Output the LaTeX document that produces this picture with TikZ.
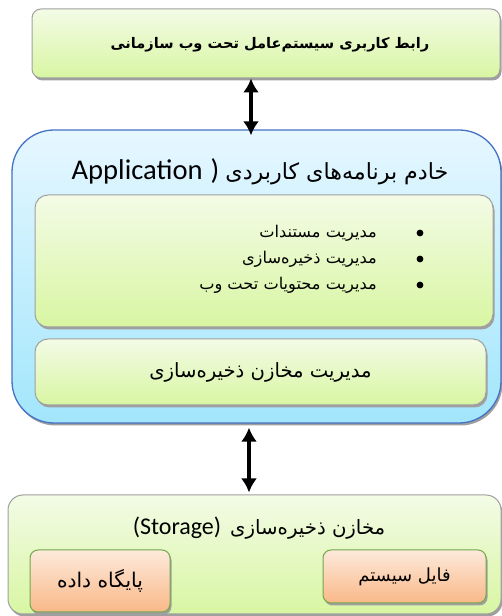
\documentclass[tikz,border=0pt]{standalone}
\usepackage{fontspec}
\setmainfont{Carlito}
\newfontfamily\fa[Script=Arabic]{DejaVu Sans}
\TeXXeTstate=1
\usetikzlibrary{arrows.meta,shadows}
\definecolor{gtop}{HTML}{F3FBE6}
\definecolor{gbot}{HTML}{D8F6A2}
\definecolor{btop}{HTML}{E6F7FF}
\definecolor{bbot}{HTML}{A2E6FC}
\definecolor{bline}{HTML}{4472C4}
\definecolor{otop}{HTML}{FDEADB}
\definecolor{obot}{HTML}{F9B888}
\definecolor{oline}{HTML}{72A84A}
\definecolor{gline}{HTML}{A0A0A0}
\begin{document}
\begin{tikzpicture}[x=1pt,y=1pt,
  shad/.style={drop shadow={shadow xshift=1.5pt,shadow yshift=-2.5pt,fill=gray!75,opacity=1}},
  greenbox/.style={shad,draw=gline,line width=1pt,top color=gtop,bottom color=gbot,inner sep=0pt},
  bluebox/.style={shad,draw=bline,line width=1.3pt,top color=btop,bottom color=bbot,inner sep=0pt},
  orangebox/.style={shad,draw=oline,line width=1pt,top color=otop,bottom color=obot,inner sep=0pt},
  arr/.style={{Latex[length=14pt,width=16pt]}-{Latex[length=14pt,width=16pt]},line width=3.6pt},
  txt/.style={inner sep=0pt,text=black}]
\useasboundingbox (0,0) rectangle (502,616);
% top box
\node[greenbox,rounded corners=9pt,minimum width=468pt,minimum height=69pt] (top) at (266,572.5) {};
\node[txt,font=\fa\bfseries\fontsize{14.6}{16}\selectfont] (toptxt) at (270,571) {\beginR رابط کاربری سیستم‌عامل تحت وب سازمانی\endR};
% application box
\node[bluebox,rounded corners=42pt,minimum width=489pt,minimum height=293pt] (app) at (256.5,339.5) {};
\node[txt,anchor=base,font=\fontsize{28.6}{30}\selectfont] (apptitle) at (260,436) {Application\hspace{8pt})\hspace{6pt}{\fa\fontsize{22.2}{24}\selectfont\beginR خادم برنامه‌های کاربردی\endR}};
\node[greenbox,rounded corners=13pt,minimum width=458pt,minimum height=132pt] (inner1) at (264,355) {};
\foreach \yy/\t [count=\i] in {383/مدیریت مستندات,357/مدیریت ذخیره‌سازی,331/مدیریت محتویات تحت وب}{
  \fill (420,\yy) circle (3.4pt);
  \node[txt,anchor=east,font=\fa\fontsize{16.2}{18}\selectfont] (item\i) at (377,\yy) {\beginR \t\endR};
}
\node[greenbox,rounded corners=13pt,minimum width=451pt,minimum height=66pt] (inner2) at (260.5,244) {\fa\fontsize{19.6}{22}\selectfont\beginR مدیریت مخازن ذخیره‌سازی\endR};
% storage box
\node[greenbox,rounded corners=15pt,minimum width=493pt,minimum height=119pt] (stor) at (254.5,61.5) {};
\node[txt,anchor=base,font=\fontsize{24}{26}\selectfont] (stortitle) at (259,81) {(Storage)\hspace{9pt}{\fa\fontsize{19.7}{21}\selectfont\beginR مخازن ذخیره‌سازی\endR}};
\node[orangebox,rounded corners=8pt,minimum width=140pt,minimum height=62pt] (db) at (100,35) {\fa\fontsize{20.2}{22}\selectfont\beginR پایگاه داده\endR};
\node[orangebox,rounded corners=8pt,minimum width=163pt,minimum height=53pt] (fs) at (404.5,39.5) {\fa\fontsize{18}{20}\selectfont\beginR فایل سیستم\endR};
% arrows
\coordinate (ax1) at (251,0);
\coordinate (ax2) at (249,0);
\draw[arr] (top.south -| ax1) -- ([yshift=-6pt]app.north -| ax1);
\draw[arr] ([yshift=-4pt]app.south -| ax2) -- ([yshift=2pt]stor.north -| ax2);
\end{tikzpicture}
\end{document}
